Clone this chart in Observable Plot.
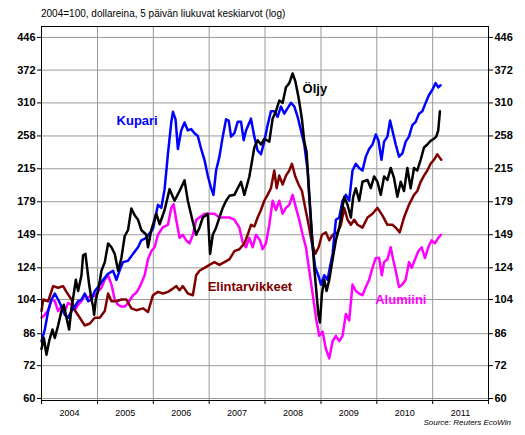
<!DOCTYPE html>
<html><head><meta charset="utf-8">
<script src="https://cdn.jsdelivr.net/npm/d3@7"></script>
<script src="https://cdn.jsdelivr.net/npm/@observablehq/plot@0.6"></script>
<style>
body{margin:0;background:#fff;}
#wrap{position:relative;width:525px;height:435px;font-family:"Liberation Sans",Arial,sans-serif;color:#000;}
#chart{position:absolute;left:0;top:0;}
#title{position:absolute;left:41px;top:8px;font-size:10px;line-height:12px;white-space:nowrap;}
#source{position:absolute;right:14px;top:418px;font-size:8px;font-style:italic;line-height:10px;white-space:nowrap;}
</style></head>
<body>
<div id="wrap"><div id="chart"></div><div id="title"></div><div id="source"></div></div>
<script>
const titleText = "2004=100, dollareina, 5 päivän liukuvat keskiarvot (log)";
const sourceText = "Source: Reuters EcoWin";
const years = [2004, 2005, 2006, 2007, 2008, 2009, 2010, 2011];
const yTicks = [60, 72, 86, 104, 124, 149, 179, 215, 258, 310, 372, 446];

// [decimal year, index value]
const kupari = [[2004.00,82.5],[2004.059,88],[2004.119,97.5],[2004.178,104],[2004.238,107.5],[2004.297,104],[2004.356,100],[2004.416,95.5],[2004.476,94],[2004.535,97.5],[2004.595,100],[2004.654,103],[2004.714,104],[2004.773,107.5],[2004.833,103],[2004.892,104],[2004.952,109],[2005.011,111.5],[2005.101,116],[2005.190,120],[2005.279,122],[2005.339,116],[2005.398,122.5],[2005.458,128],[2005.547,129],[2005.636,134],[2005.726,139],[2005.785,144.5],[2005.874,146.5],[2005.994,154],[2006.083,176],[2006.143,173],[2006.202,192],[2006.262,234],[2006.321,278],[2006.351,295],[2006.398,283],[2006.440,240],[2006.499,266],[2006.559,278],[2006.618,266],[2006.678,268],[2006.737,262],[2006.797,258],[2006.856,240],[2006.916,226],[2006.975,207],[2007.035,193],[2007.077,186],[2007.124,213],[2007.184,230],[2007.243,257],[2007.303,283],[2007.350,281],[2007.392,257],[2007.452,262],[2007.511,279],[2007.571,279],[2007.618,252],[2007.660,266],[2007.749,284],[2007.809,257],[2007.868,238],[2007.928,233],[2007.987,250],[2008.047,274],[2008.106,296],[2008.166,296],[2008.225,287],[2008.285,304],[2008.345,292],[2008.404,301],[2008.464,310],[2008.523,304],[2008.583,287],[2008.642,266],[2008.702,246],[2008.761,213],[2008.803,173],[2008.850,139],[2008.898,124],[2008.952,119],[2008.999,113],[2009.059,119],[2009.118,116],[2009.148,122],[2009.208,134],[2009.267,162],[2009.327,164],[2009.386,180],[2009.446,186],[2009.505,180],[2009.565,213],[2009.624,221],[2009.684,216],[2009.743,213],[2009.803,230],[2009.862,240],[2009.922,246],[2009.981,260],[2010.029,252],[2010.083,226],[2010.130,250],[2010.190,257],[2010.237,281],[2010.279,266],[2010.338,246],[2010.398,230],[2010.457,234],[2010.517,250],[2010.576,257],[2010.636,274],[2010.696,279],[2010.755,292],[2010.815,296],[2010.874,310],[2010.934,324],[2010.993,333],[2011.053,346],[2011.100,338],[2011.142,342]];

const oljy = [[2004.00,79],[2004.042,84],[2004.089,76.5],[2004.136,82.5],[2004.196,88],[2004.238,84],[2004.297,90],[2004.356,97.5],[2004.398,101],[2004.446,94],[2004.493,88],[2004.535,99],[2004.577,107.5],[2004.613,116],[2004.654,109],[2004.714,119],[2004.743,133],[2004.785,134],[2004.815,124],[2004.851,113],[2004.892,104],[2004.922,100],[2004.940,95.5],[2004.970,104],[2005.011,109],[2005.071,122],[2005.131,128],[2005.190,142],[2005.250,139],[2005.309,134],[2005.369,122],[2005.428,131],[2005.488,148],[2005.547,153],[2005.607,172.5],[2005.666,166],[2005.726,162],[2005.785,153],[2005.874,149],[2005.904,139],[2005.964,153],[2006.053,167.5],[2006.113,158],[2006.202,171],[2006.291,192],[2006.380,180],[2006.470,190],[2006.559,201.6],[2006.618,180],[2006.708,160],[2006.767,149],[2006.827,155],[2006.886,164],[2006.975,167.5],[2007.017,134],[2007.065,149],[2007.124,155],[2007.184,164],[2007.243,173],[2007.303,180],[2007.362,185],[2007.452,186],[2007.511,193],[2007.571,200],[2007.630,186],[2007.720,206],[2007.809,242],[2007.868,252],[2007.928,246],[2007.987,254],[2008.077,250],[2008.136,284],[2008.196,296],[2008.255,314],[2008.315,310],[2008.374,338],[2008.434,346],[2008.493,365],[2008.541,350],[2008.600,319],[2008.660,283],[2008.702,250],[2008.743,236],[2008.791,186],[2008.839,149],[2008.880,124],[2008.910,111.5],[2008.952,96],[2008.981,91.5],[2009.017,107.5],[2009.059,116],[2009.100,109],[2009.148,116],[2009.208,130],[2009.267,144.5],[2009.327,155],[2009.416,184],[2009.475,176],[2009.535,164],[2009.577,184],[2009.624,193],[2009.684,180],[2009.743,200],[2009.833,202],[2009.892,193],[2009.952,206],[2010.011,200],[2010.071,186],[2010.130,206],[2010.190,202],[2010.249,216],[2010.309,204],[2010.368,184],[2010.428,200],[2010.487,190],[2010.547,216],[2010.606,193],[2010.666,216],[2010.725,213],[2010.785,226],[2010.845,242],[2010.904,246],[2010.963,251],[2011.023,254],[2011.065,257],[2011.100,266],[2011.130,296]];

const elintarvikkeet = [[2004.00,97.5],[2004.030,104],[2004.119,103],[2004.208,112],[2004.297,111],[2004.386,112],[2004.446,108.5],[2004.535,104],[2004.595,98],[2004.684,94],[2004.773,90],[2004.863,91],[2004.952,94],[2005.041,94],[2005.130,97.5],[2005.190,107.5],[2005.250,103],[2005.339,103],[2005.428,104],[2005.517,104],[2005.607,99],[2005.696,98],[2005.815,99],[2005.904,97],[2005.994,106.5],[2006.083,108.5],[2006.172,107.5],[2006.262,108.5],[2006.351,110.5],[2006.410,112],[2006.470,109.5],[2006.529,112],[2006.618,107.5],[2006.708,106.5],[2006.767,119],[2006.827,122],[2006.916,124],[2007.005,126],[2007.094,128],[2007.184,126],[2007.273,128],[2007.362,130],[2007.452,136],[2007.541,137.5],[2007.630,142],[2007.690,149],[2007.749,157.5],[2007.809,156],[2007.868,164],[2007.928,171],[2007.987,180],[2008.047,186],[2008.106,193],[2008.166,213],[2008.208,193],[2008.255,207],[2008.315,197],[2008.374,207],[2008.434,213],[2008.481,221],[2008.541,206],[2008.600,197],[2008.660,190],[2008.719,173],[2008.779,157.5],[2008.839,142],[2008.898,134],[2008.958,139],[2009.017,149],[2009.088,151],[2009.148,144.5],[2009.208,149],[2009.297,151],[2009.357,157.5],[2009.416,173],[2009.475,162],[2009.535,157.5],[2009.595,162],[2009.654,157.5],[2009.743,155],[2009.833,164],[2009.922,167.5],[2010.011,173],[2010.100,166],[2010.190,157.5],[2010.279,157.5],[2010.338,155],[2010.410,151],[2010.487,164],[2010.576,176],[2010.666,186],[2010.725,190],[2010.785,200],[2010.845,207],[2010.904,213],[2010.963,221],[2011.023,226],[2011.083,233],[2011.112,230],[2011.154,226]];

const alumiini = [[2004.00,94],[2004.059,95.5],[2004.119,98],[2004.178,104],[2004.238,103],[2004.297,97.5],[2004.356,100],[2004.416,97.5],[2004.476,102],[2004.535,101],[2004.595,98],[2004.654,101],[2004.714,103],[2004.773,106.5],[2004.833,105],[2004.892,106.5],[2004.952,106],[2005.011,109],[2005.071,111],[2005.130,116],[2005.190,119],[2005.250,113],[2005.309,104],[2005.369,101],[2005.428,100],[2005.488,100],[2005.547,102],[2005.636,106.5],[2005.696,108],[2005.756,111.5],[2005.845,119],[2005.904,130],[2005.964,136],[2006.023,139],[2006.083,149],[2006.172,155.5],[2006.262,157.5],[2006.321,173],[2006.363,176.5],[2006.410,162],[2006.470,146.5],[2006.529,149],[2006.589,144.5],[2006.648,142],[2006.708,149],[2006.767,162],[2006.827,164],[2006.916,167.5],[2007.005,167.5],[2007.094,167.5],[2007.184,164],[2007.273,164],[2007.362,164],[2007.452,162],[2007.541,155],[2007.600,143],[2007.660,139],[2007.720,146.5],[2007.779,139],[2007.839,149],[2007.910,144.5],[2007.958,137.5],[2008.017,142],[2008.077,157.5],[2008.136,180],[2008.196,171],[2008.255,180],[2008.315,167.5],[2008.374,173],[2008.434,176],[2008.493,186],[2008.553,173],[2008.612,162],[2008.672,149],[2008.731,139],[2008.791,122],[2008.850,107.5],[2008.910,94],[2008.969,85],[2009.029,87],[2009.088,79],[2009.148,75],[2009.208,82.5],[2009.267,85],[2009.327,82.5],[2009.386,85],[2009.446,96],[2009.505,92.6],[2009.565,113],[2009.624,109],[2009.684,107.5],[2009.743,106.5],[2009.803,111.5],[2009.862,116],[2009.922,124],[2009.981,131],[2010.041,131],[2010.089,119],[2010.130,128],[2010.190,130],[2010.249,139],[2010.291,130],[2010.338,122],[2010.398,111.5],[2010.457,113],[2010.517,116],[2010.576,128],[2010.624,124],[2010.684,130],[2010.743,136],[2010.803,139],[2010.862,131],[2010.922,139],[2010.981,144.5],[2011.041,142],[2011.100,146.5],[2011.148,149]];

const labelNames = ["Kupari", "Öljy", "Elintarvikkeet", "Alumiini"];
const labelYears = [2005.71, 2008.89, 2007.73, 2010.43];
const labelValues = [280, 336, 111.8, 104];
const seriesColors = ["#0000ff", "#000000", "#800000", "#ff00ff"];

function dec(t) {
  const y = Math.floor(t);
  const s = Date.UTC(y, 0, 1), e = Date.UTC(y + 1, 0, 1);
  return new Date(s + (t - y) * (e - s));
}
const yearStarts = d3.range(2004, 2013).map(y => new Date(Date.UTC(y, 0, 1)));
const yearMids = years.map(y => new Date(Date.UTC(y, 6, 2)));

const lineOpts = c => ({x: d => dec(d[0]), y: d => d[1], stroke: c, strokeWidth: 2.5});

const chart = Plot.plot({
  width: 525, height: 435,
  marginLeft: 41, marginRight: 37, marginTop: 26, marginBottom: 35,
  style: {fontFamily: "'Liberation Sans', Arial, sans-serif", background: "transparent", overflow: "visible"},
  x: {type: "utc", domain: [yearStarts[0], yearStarts[8]]},
  y: {type: "log", domain: [59.34, 473.9]},
  color: {type: "identity"},
  marks: [
    Plot.gridX(yearStarts.slice(1, 8), {stroke: "#999", strokeOpacity: 1, strokeWidth: 1}),
    Plot.gridY(yTicks, {stroke: "#999", strokeOpacity: 1, strokeWidth: 1}),
    Plot.axisY(yTicks, {anchor: "left", tickSize: 4, tickPadding: 2, tickFormat: d => String(d), fontWeight: "bold", fontSize: 11, label: null}),
    Plot.axisY(yTicks, {anchor: "right", tickSize: 4, tickPadding: 2, tickFormat: d => String(d), fontWeight: "bold", fontSize: 11, label: null}),
    Plot.axisX(yearStarts, {anchor: "bottom", tickSize: 4, tickFormat: () => "", label: null}),
    Plot.axisX(yearMids, {anchor: "bottom", tickSize: 0, tickPadding: 9, tickFormat: d => String(d.getUTCFullYear()), fontSize: 9, label: null}),
    Plot.line(alumiini, lineOpts(seriesColors[3])),
    Plot.line(elintarvikkeet, lineOpts(seriesColors[2])),
    Plot.line(kupari, lineOpts(seriesColors[0])),
    Plot.line(oljy, lineOpts(seriesColors[1])),
    Plot.text(labelNames, {
      x: (d, i) => dec(labelYears[i]), y: (d, i) => labelValues[i], text: d => d,
      fill: (d, i) => seriesColors[i], fontWeight: "bold", fontSize: 13
    }),
    Plot.frame({stroke: "black", strokeWidth: 1})
  ]
});
document.getElementById("chart").appendChild(chart);
document.getElementById("title").textContent = titleText;
document.getElementById("source").textContent = sourceText;
</script>
</body></html>
